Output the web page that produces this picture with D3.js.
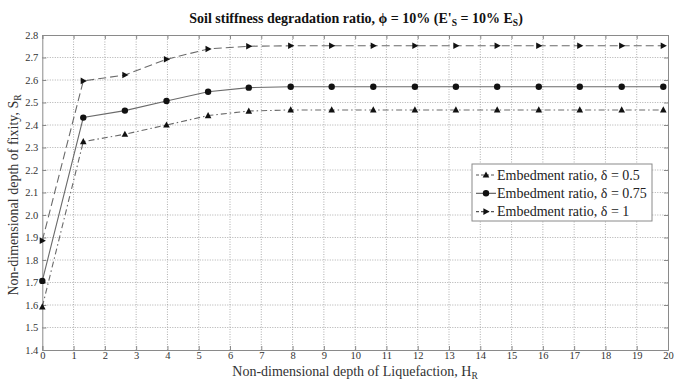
<!DOCTYPE html>
<html>
<head>
<meta charset="utf-8">
<script src="https://cdn.jsdelivr.net/npm/d3@7"></script>
<style>
  html, body { margin: 0; padding: 0; background: #fff; }
  svg { display: block; font-family: "Liberation Serif", "Times New Roman", serif; }
</style>
</head>
<body>
<svg id="chart" width="675" height="381"></svg>
<script>
// Non-dimensional depth of liquefaction (H_R) at which fixity was computed
const depthValues = [0, 1.31, 2.64, 3.97, 5.30, 6.60, 7.94, 9.25, 10.58, 11.91, 13.22, 14.54, 15.87, 17.18, 18.52, 19.85];

// Non-dimensional depth of fixity (S_R) for each embedment ratio
const fixityDelta050 = [1.592, 2.326, 2.359, 2.400, 2.442, 2.462, 2.467, 2.467, 2.467, 2.467, 2.467, 2.467, 2.467, 2.467, 2.467, 2.467];
const fixityDelta075 = [1.707, 2.433, 2.464, 2.507, 2.548, 2.566, 2.570, 2.570, 2.570, 2.570, 2.570, 2.570, 2.570, 2.570, 2.570, 2.570];
const fixityDelta100 = [1.886, 2.596, 2.622, 2.692, 2.738, 2.750, 2.752, 2.752, 2.752, 2.752, 2.752, 2.752, 2.752, 2.752, 2.752, 2.752];

const seriesLabels = ["Embedment ratio, \u03b4 = 0.5", "Embedment ratio, \u03b4 = 0.75", "Embedment ratio, \u03b4 = 1"];

const xTicks = d3.range(0, 21, 1);
const yTicks = [1.4, 1.5, 1.6, 1.7, 1.8, 1.9, 2.0, 2.1, 2.2, 2.3, 2.4, 2.5, 2.6, 2.7, 2.8];

const FONT = "'Liberation Serif', 'Times New Roman', serif";
const svg = d3.select("#chart");
const margin = { left: 42.3, right: 675 - 668, top: 35, bottom: 381 - 350 };
const W = 675, H = 381;

const x = d3.scaleLinear().domain([0, 20]).range([margin.left, W - margin.right]);
const y = d3.scaleLinear().domain([1.4, 2.8]).range([H - margin.bottom, margin.top]);

// Dotted grid
const grid = svg.append("g").attr("stroke", "#9a9a9a").attr("stroke-width", 0.8)
  .attr("stroke-dasharray", "1,1.5");
grid.selectAll(".gx").data(xTicks.slice(1, -1)).join("line")
  .attr("x1", d => x(d)).attr("x2", d => x(d))
  .attr("y1", y(1.4)).attr("y2", y(2.8));
grid.selectAll(".gy").data(yTicks.slice(1, -1)).join("line")
  .attr("x1", x(0)).attr("x2", x(20))
  .attr("y1", d => y(d)).attr("y2", d => y(d));

// Axes
const xAxis = d3.axisBottom(x).tickValues(xTicks).tickSize(-4).tickPadding(2).tickFormat(d3.format("d"));
const yAxis = d3.axisLeft(y).tickValues(yTicks).tickSize(-4).tickPadding(4).tickFormat(d3.format(".1f"));
const xAxisTop = d3.axisTop(x).tickValues(xTicks).tickSize(-4).tickFormat("");
const yAxisRight = d3.axisRight(y).tickValues(yTicks).tickSize(-4).tickFormat("");

function styleAxis(g) {
  g.attr("font-family", FONT).attr("font-size", 10.5);
  g.select(".domain").attr("stroke", "#8a8a8a").attr("stroke-width", 1);
  g.selectAll(".tick line").attr("stroke", "#8a8a8a");
  g.selectAll(".tick text").attr("fill", "#333");
}
svg.append("g").attr("transform", `translate(0,${y(1.4)})`).call(xAxis).call(styleAxis);
svg.append("g").attr("transform", `translate(${x(0)},0)`).call(yAxis).call(styleAxis);
svg.append("g").attr("transform", `translate(0,${y(2.8)})`).call(xAxisTop).call(styleAxis);
svg.append("g").attr("transform", `translate(${x(20)},0)`).call(yAxisRight).call(styleAxis);

// Series
const series = [
  { values: fixityDelta050, dash: "6,3,1.5,3", marker: "triUp" },
  { values: fixityDelta075, dash: null, marker: "circle" },
  { values: fixityDelta100, dash: "8,4", marker: "triRight" }
];

const line = d3.line().x(d => x(d[0])).y(d => y(d[1]));

function drawMarker(sel, type) {
  if (type === "circle") {
    sel.append("circle").attr("r", 3.2).attr("fill", "#111");
  } else if (type === "triUp") {
    sel.append("path").attr("d", "M0,-3.6L3.3,2.6L-3.3,2.6Z").attr("fill", "#111");
  } else {
    sel.append("path").attr("d", "M3.6,0L-2.6,3.3L-2.6,-3.3Z").attr("fill", "#111");
  }
}

series.forEach(s => {
  const pts = depthValues.map((d, i) => [d, s.values[i]]);
  svg.append("path").datum(pts).attr("d", line)
    .attr("fill", "none").attr("stroke", "#6a6a6a").attr("stroke-width", 1.1)
    .attr("stroke-dasharray", s.dash);
  pts.forEach(p => {
    const g = svg.append("g").attr("transform", `translate(${x(p[0])},${y(p[1])})`);
    drawMarker(g, s.marker);
  });
});

// Legend
const lg = svg.append("g").attr("transform", "translate(472,164)");
lg.append("rect").attr("width", 180).attr("height", 57)
  .attr("fill", "#fff").attr("stroke", "#8a8a8a").attr("stroke-width", 1);
series.forEach((s, i) => {
  const yy = 11 + i * 18.3;
  lg.append("line").attr("x1", 4).attr("x2", 24).attr("y1", yy).attr("y2", yy)
    .attr("stroke", "#555").attr("stroke-width", 1.1).attr("stroke-dasharray", s.dash ? "3,2" : null);
  drawMarker(lg.append("g").attr("transform", `translate(14,${yy})`), s.marker);
  lg.append("text").attr("x", 25).attr("y", yy + 4.5).text(seriesLabels[i])
    .attr("font-family", FONT).attr("font-size", 14).attr("fill", "#222");
});

// Title
const title = svg.append("text").attr("x", 356).attr("y", 23).attr("text-anchor", "middle")
  .attr("font-family", FONT).attr("font-size", 14).attr("font-weight", "bold").attr("fill", "#111");
title.append("tspan").text("Soil stiffness degradation ratio, \u03d5 = 10% (E'");
title.append("tspan").attr("dy", 3).attr("font-size", 9.5).text("S");
title.append("tspan").attr("dy", -3).text(" = 10% E");
title.append("tspan").attr("dy", 3).attr("font-size", 9.5).text("S");
title.append("tspan").attr("dy", -3).text(")");

// Axis titles
const xt = svg.append("text").attr("x", 355).attr("y", 376).attr("text-anchor", "middle")
  .attr("font-family", FONT).attr("font-size", 14).attr("fill", "#333");
xt.append("tspan").text("Non-dimensional depth of Liquefaction, H");
xt.append("tspan").attr("dy", 3).attr("font-size", 9.5).text("R");

const yt = svg.append("text").attr("transform", "translate(18,195) rotate(-90)").attr("text-anchor", "middle")
  .attr("font-family", FONT).attr("font-size", 14).attr("fill", "#333");
yt.append("tspan").text("Non-dimensional depth of fixity, S");
yt.append("tspan").attr("dy", 3).attr("font-size", 9.5).text("R");
</script>
</body>
</html>
